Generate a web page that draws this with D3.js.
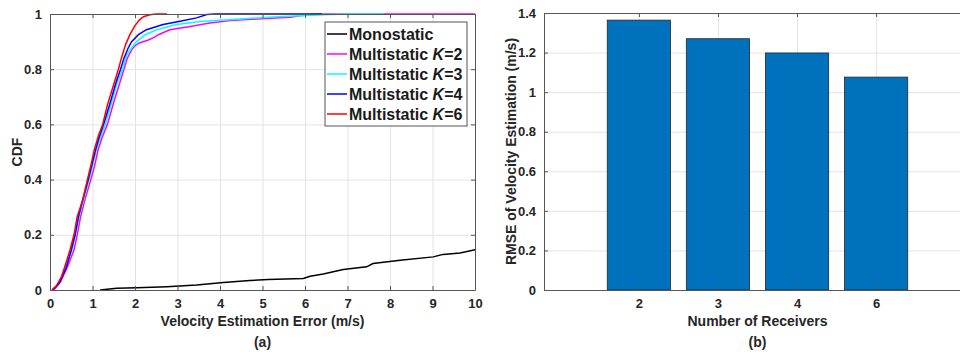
<!DOCTYPE html>
<html>
<head>
<meta charset="utf-8">
<script src="https://cdn.jsdelivr.net/npm/d3@7"></script>
<style>
  body { margin: 0; background: #fff; }
  svg { display: block; font-family: "Liberation Sans", Arial, sans-serif; font-weight: bold; }
  .axis text { font-size: 13px; fill: #262626; font-weight: bold; }
  .axis path, .axis line { stroke: #555; }
  .grid line { stroke: #e3e3e3; }
  .grid path { display: none; }
  .label { font-size: 14px; fill: #262626; }
</style>
</head>
<body>
<div id="chart"></div>
<script>
// ---- data ----
const cdfTicksX = d3.range(0, 11);
const cdfTicksY = [0, 0.2, 0.4, 0.6, 0.8, 1];
const seriesNames = ['Monostatic', 'Multistatic K=2', 'Multistatic K=3', 'Multistatic K=4', 'Multistatic K=6'];

const mono = [[1.18,0],[1.57,0.006],[2.04,0.008],[2.75,0.012],[3.45,0.018],[4.08,0.027],[4.7,0.034],
  [5.13,0.038],[5.96,0.042],[6.12,0.05],[6.43,0.058],[6.9,0.074],[7.45,0.084],[7.6,0.096],[8.24,0.108],
  [9.02,0.12],[9.25,0.129],[9.65,0.134],[10,0.146],[10.2,0.15]];
const multiK2 = [[0.05,0],[0.12,0.005],[0.25,0.03],[0.4,0.08],[0.565,0.145],[0.64,0.2],[0.72,0.266],
  [0.82,0.326],[0.96,0.4],[1.05,0.45],[1.13,0.507],[1.22,0.55],[1.35,0.6],[1.5,0.68],[1.62,0.74],
  [1.74,0.8],[1.82,0.84],[1.92,0.87],[2.0,0.885],[2.1,0.895],[2.3,0.905],[2.45,0.915],[2.55,0.925],
  [2.82,0.943],[3.3,0.955],[3.76,0.967],[4.24,0.976],[4.98,0.983],[5.65,0.988],[5.95,0.995],
  [6.2,0.998],[6.5,1],[10,1]];
const multiK3 = [[0.05,0],[0.1,0.005],[0.22,0.03],[0.38,0.09],[0.52,0.145],[0.6,0.2],[0.68,0.266],
  [0.79,0.326],[0.92,0.4],[1.0,0.45],[1.09,0.507],[1.18,0.55],[1.3,0.6],[1.45,0.68],[1.58,0.75],
  [1.71,0.8],[1.8,0.85],[1.92,0.877],[2.04,0.9],[2.24,0.925],[2.51,0.943],[2.98,0.962],[3.6,0.974],
  [4.3,0.98],[5.33,0.99],[6.0,0.995],[6.6,0.998],[7.0,1],[7.85,1]];
const multiK4 = [[0.05,0],[0.1,0.005],[0.22,0.025],[0.38,0.08],[0.5,0.145],[0.59,0.2],[0.67,0.266],
  [0.77,0.326],[0.9,0.4],[0.98,0.45],[1.07,0.507],[1.15,0.55],[1.26,0.6],[1.4,0.67],[1.55,0.75],
  [1.66,0.8],[1.74,0.84],[1.84,0.877],[1.92,0.9],[2.08,0.925],[2.27,0.943],[2.66,0.962],[3.06,0.974],
  [3.45,0.986],[3.69,0.998],[3.9,1],[6.4,1]];
const multiK6 = [[0.05,0],[0.08,0.005],[0.15,0.015],[0.27,0.048],[0.38,0.1],[0.47,0.145],[0.565,0.2],
  [0.64,0.266],[0.77,0.326],[0.88,0.4],[0.96,0.45],[1.04,0.507],[1.14,0.56],[1.24,0.6],[1.35,0.67],
  [1.45,0.72],[1.61,0.8],[1.68,0.84],[1.78,0.89],[1.88,0.925],[2.0,0.958],[2.1,0.978],[2.2,0.99],
  [2.35,0.997],[2.5,1],[2.75,1]];

const receivers = ['2', '3', '4', '6'];
const rmse = [1.364, 1.27, 1.198, 1.076];
const rmseTicks = [0, 0.2, 0.4, 0.6, 0.8, 1, 1.2, 1.4];

// ---- styles ----
const lineColors = ['#000000', '#ff00ff', '#00ffff', '#0000ff', '#ff0000'];
const barColor = '#0072bd';

const W = 960, H = 352;
const svg = d3.select('#chart').append('svg').attr('width', W).attr('height', H);

// ================= (a) CDF =================
const a = { left: 50, right: 475, top: 14, bottom: 290 };
const xA = d3.scaleLinear().domain([0, 10]).range([a.left, a.right]);
const yA = d3.scaleLinear().domain([0, 1]).range([a.bottom, a.top]);

const gA = svg.append('g');
gA.append('g').attr('class', 'grid').attr('transform', `translate(0,${a.bottom})`)
  .call(d3.axisBottom(xA).tickValues(cdfTicksX).tickSize(-(a.bottom - a.top)).tickFormat(''));
gA.append('g').attr('class', 'grid').attr('transform', `translate(${a.left},0)`)
  .call(d3.axisLeft(yA).tickValues(cdfTicksY).tickSize(-(a.right - a.left)).tickFormat(''));

gA.append('clipPath').attr('id', 'clipA').append('rect')
  .attr('x', a.left).attr('y', a.top - 2).attr('width', a.right - a.left).attr('height', a.bottom - a.top + 2);

const line = d3.line().x(d => xA(d[0])).y(d => yA(d[1]));
const series = [mono, multiK2, multiK3, multiK4, multiK6];
gA.append('g').attr('clip-path', 'url(#clipA)')
  .selectAll('path').data(series).join('path')
  .attr('d', line)
  .attr('fill', 'none')
  .attr('stroke', (d, i) => lineColors[i])
  .attr('stroke-width', 1.5);

// axes with inward ticks on all four sides
gA.append('g').attr('class', 'axis').attr('transform', `translate(0,${a.bottom})`)
  .call(d3.axisBottom(xA).tickValues(cdfTicksX).tickSizeInner(-4).tickSizeOuter(0).tickPadding(9).tickFormat(d3.format('d')));
gA.append('g').attr('class', 'axis').attr('transform', `translate(0,${a.top})`)
  .call(d3.axisTop(xA).tickValues(cdfTicksX).tickSizeInner(-4).tickSizeOuter(0).tickFormat(''));
gA.append('g').attr('class', 'axis').attr('transform', `translate(${a.left},0)`)
  .call(d3.axisLeft(yA).tickValues(cdfTicksY).tickSizeInner(-4).tickSizeOuter(0).tickPadding(8).tickFormat(d => +d.toFixed(1)));
gA.append('g').attr('class', 'axis').attr('transform', `translate(${a.right},0)`)
  .call(d3.axisRight(yA).tickValues(cdfTicksY).tickSizeInner(-4).tickSizeOuter(0).tickFormat(''));

gA.append('text').attr('class', 'label').attr('text-anchor', 'middle')
  .attr('x', (a.left + a.right) / 2).attr('y', 326).text('Velocity Estimation Error (m/s)');
gA.append('text').attr('class', 'label').attr('text-anchor', 'middle')
  .attr('x', (a.left + a.right) / 2).attr('y', 347).text('(a)');
gA.append('text').attr('class', 'label').attr('text-anchor', 'middle')
  .attr('transform', `translate(22,${(a.top + a.bottom) / 2}) rotate(-90)`).text('CDF');

// legend
const leg = gA.append('g').attr('transform', 'translate(325,22)');
leg.append('rect').attr('width', 142).attr('height', 104)
  .attr('fill', '#fff').attr('stroke', '#555').attr('stroke-width', 1);
const items = leg.selectAll('g.item').data(seriesNames).join('g')
  .attr('class', 'item').attr('transform', (d, i) => `translate(0,${12 + i * 20})`);
items.append('line').attr('x1', 2).attr('x2', 22).attr('y1', 0).attr('y2', 0)
  .attr('stroke', (d, i) => lineColors[i]).attr('stroke-width', 1.5);
const lt = items.append('text').attr('x', 24).attr('y', 5.8)
  .attr('font-size', 16).attr('fill', '#1a1a1a');
lt.each(function(d) {
  const t = d3.select(this);
  const m = d.match(/^(.*)K(=\d)$/);
  if (m) {
    t.append('tspan').text(m[1]);
    t.append('tspan').attr('font-style', 'italic').text('K');
    t.append('tspan').text(m[2]);
  } else {
    t.text(d);
  }
});

// ================= (b) RMSE bars =================
const b = { left: 544, right: 971, top: 13, bottom: 290 };
const xB = d3.scaleLinear().domain([-0.2, 5.2]).range([b.left, b.right]);
const yB = d3.scaleLinear().domain([0, 1.4]).range([b.bottom, b.top]);
const pos = receivers.map((d, i) => i + 1);

const gB = svg.append('g');
gB.append('g').attr('class', 'grid').attr('transform', `translate(0,${b.bottom})`)
  .call(d3.axisBottom(xB).tickValues(pos).tickSize(-(b.bottom - b.top)).tickFormat(''));
gB.append('g').attr('class', 'grid').attr('transform', `translate(${b.left},0)`)
  .call(d3.axisLeft(yB).tickValues(rmseTicks).tickSize(-(b.right - b.left)).tickFormat(''));

const barW = xB(0.8) - xB(0);
gB.selectAll('rect.bar').data(rmse).join('rect')
  .attr('class', 'bar')
  .attr('x', (d, i) => xB(pos[i]) - barW / 2)
  .attr('width', barW)
  .attr('y', d => yB(d))
  .attr('height', d => yB(0) - yB(d))
  .attr('fill', barColor)
  .attr('stroke', '#262626')
  .attr('stroke-width', 0.8);

gB.append('g').attr('class', 'axis').attr('transform', `translate(0,${b.bottom})`)
  .call(d3.axisBottom(xB).tickValues(pos).tickSizeInner(-4).tickSizeOuter(0).tickPadding(9)
    .tickFormat(d => receivers[d - 1]));
gB.append('g').attr('class', 'axis').attr('transform', `translate(0,${b.top})`)
  .call(d3.axisTop(xB).tickValues(pos).tickSizeInner(-4).tickSizeOuter(0).tickFormat(''));
gB.append('g').attr('class', 'axis').attr('transform', `translate(${b.left},0)`)
  .call(d3.axisLeft(yB).tickValues(rmseTicks).tickSizeInner(-4).tickSizeOuter(0).tickPadding(8)
    .tickFormat(d => +d.toFixed(1)));

gB.append('text').attr('class', 'label').attr('text-anchor', 'middle')
  .attr('x', (b.left + b.right) / 2).attr('y', 326).text('Number of Receivers');
gB.append('text').attr('class', 'label').attr('text-anchor', 'middle')
  .attr('x', (b.left + b.right) / 2).attr('y', 347).text('(b)');
gB.append('text').attr('class', 'label').attr('text-anchor', 'middle')
  .attr('transform', `translate(516,${(b.top + b.bottom) / 2}) rotate(-90)`)
  .text('RMSE of Velocity Estimation (m/s)');
</script>
</body>
</html>
